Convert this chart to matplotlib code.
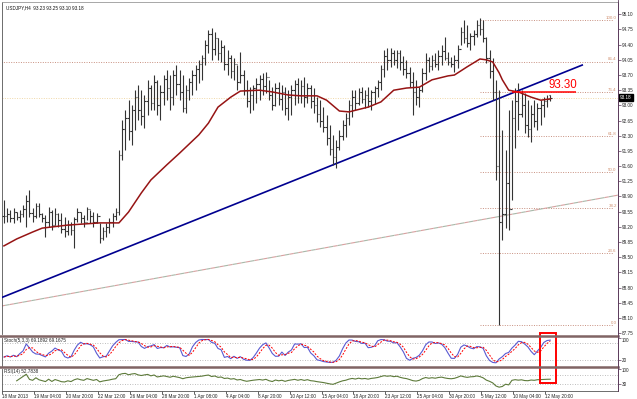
import numpy as np
import pandas as pd
import matplotlib
matplotlib.use("Agg")
import matplotlib.pyplot as plt
from matplotlib.lines import Line2D
from matplotlib.patches import Rectangle

# USDJPY H4 bars
highs = [90.82, 90.63, 90.59, 90.63, 90.54, 90.59, 90.70, 90.93, 91.05, 90.63,
         90.75, 90.75, 90.52, 90.47, 90.66, 90.59, 90.63, 90.52, 90.52, 90.43,
         90.36, 90.31, 90.43, 90.63, 90.54, 90.47, 90.66, 90.59, 90.54, 90.52,
         90.29, 90.20, 90.29, 90.40, 90.52, 90.63, 91.97, 92.66, 92.89, 93.12,
         93.01, 93.35, 93.47, 93.35, 93.24, 93.59, 93.47, 93.70, 93.59, 93.47,
         93.70, 93.82, 93.70, 93.82, 93.93, 93.82, 93.70, 93.47, 93.63, 93.82,
         93.93, 94.05, 94.16, 94.51, 94.74, 94.78, 94.69, 94.55, 94.51, 94.39,
         94.28, 94.16, 94.09, 93.93, 94.23, 93.82, 93.59, 93.42, 93.47, 93.63,
         93.70, 93.75, 93.77, 93.59, 93.42, 93.52, 93.54, 93.47, 93.42, 93.35,
         93.47, 93.59, 93.63, 93.59, 93.65, 93.52, 93.47, 93.40, 93.19, 93.12,
         92.96, 92.78, 92.55, 92.32, 92.20, 92.43, 92.66, 92.82, 93.12, 93.35,
         93.35, 93.40, 93.42, 93.35, 93.42, 93.35, 93.45, 93.59, 93.93, 94.28,
         94.32, 94.32, 94.28, 94.28, 94.28, 94.14, 94.05, 93.89, 93.77, 93.59,
         93.42, 93.86, 94.21, 94.11, 94.16, 94.21, 94.28, 94.39, 94.58, 94.23,
         94.11, 94.16, 94.39, 94.81, 94.97, 94.85, 94.67, 94.74, 94.97, 95.01,
         94.97, 94.58, 94.28, 94.09, 93.59, 93.35, 92.43, 91.97, 92.89, 93.12,
         93.40, 93.52, 93.35, 93.29, 93.12, 93.01, 93.12, 93.06, 93.12, 93.19,
         93.24, 93.25]
lows = [90.29, 90.31, 90.31, 90.29, 90.36, 90.31, 90.43, 90.20, 90.43, 90.31,
        90.40, 90.43, 90.31, 89.96, 90.20, 90.13, 90.24, 90.20, 90.06, 89.96,
        90.01, 90.01, 89.71, 90.31, 90.29, 90.20, 90.36, 90.29, 90.20, 90.29,
        89.83, 89.90, 89.96, 90.06, 90.20, 90.36, 90.47, 91.74, 91.97, 92.20,
        92.09, 92.43, 92.66, 92.55, 92.48, 92.78, 92.89, 92.89, 92.78, 92.66,
        93.01, 93.12, 92.89, 93.01, 93.24, 93.12, 92.85, 92.82, 93.12, 93.24,
        93.35, 93.52, 93.59, 93.93, 94.21, 94.05, 94.16, 94.05, 94.00, 93.82,
        93.70, 93.63, 93.59, 93.35, 93.52, 93.24, 92.96, 92.82, 92.89, 93.06,
        93.12, 93.24, 93.29, 93.12, 92.89, 92.99, 93.01, 92.89, 92.78, 92.66,
        92.78, 93.01, 93.06, 93.06, 92.96, 93.06, 92.94, 92.82, 92.62, 92.50,
        92.39, 92.09, 91.86, 91.63, 91.56, 91.97, 92.20, 92.27, 92.55, 92.73,
        92.89, 93.01, 93.06, 92.94, 92.96, 92.89, 93.03, 93.19, 93.35, 93.65,
        93.82, 93.89, 93.93, 93.86, 93.82, 93.70, 93.63, 93.42, 92.78, 93.01,
        92.96, 93.31, 93.59, 93.77, 93.82, 93.89, 93.82, 93.93, 94.05, 93.93,
        93.89, 93.77, 93.86, 94.39, 94.44, 94.35, 94.28, 94.39, 94.58, 94.62,
        94.46, 93.98, 93.63, 93.12, 91.28, 87.94, 89.90, 90.17, 90.13, 90.82,
        92.02, 92.43, 92.73, 92.36, 92.27, 92.16, 92.50, 92.43, 92.55, 92.73,
        92.96, 93.10]
closes = [90.45, 90.50, 90.40, 90.55, 90.42, 90.50, 90.62, 90.80, 90.52, 90.45,
          90.68, 90.50, 90.40, 90.30, 90.55, 90.25, 90.50, 90.35, 90.15, 90.10,
          90.25, 90.12, 90.38, 90.55, 90.40, 90.30, 90.60, 90.45, 90.30, 90.45,
          89.95, 90.10, 90.20, 90.30, 90.45, 90.55, 91.85, 92.45, 92.70, 92.40,
          92.90, 93.20, 92.90, 92.75, 93.10, 93.40, 93.05, 93.55, 93.00, 93.30,
          93.60, 93.40, 93.20, 93.70, 93.50, 93.30, 92.95, 93.35, 93.55, 93.70,
          93.85, 93.95, 94.10, 94.40, 94.65, 94.30, 94.55, 94.20, 94.35, 93.95,
          94.10, 93.80, 93.95, 93.55, 93.70, 93.35, 93.10, 93.25, 93.40, 93.50,
          93.60, 93.45, 93.65, 93.25, 93.00, 93.40, 93.15, 93.30, 92.95, 93.20,
          93.35, 93.50, 93.25, 93.45, 93.20, 93.40, 93.10, 93.00, 92.80, 92.65,
          92.50, 92.25, 92.00, 91.80, 92.05, 92.30, 92.55, 92.70, 93.00, 93.20,
          93.05, 93.30, 93.15, 93.25, 93.10, 93.30, 93.40, 93.55, 93.85, 94.15,
          94.05, 94.20, 94.05, 94.20, 94.00, 93.85, 93.75, 93.55, 93.30, 93.20,
          93.35, 93.75, 94.05, 93.90, 94.05, 93.95, 94.15, 94.25, 94.10, 94.00,
          93.95, 94.05, 94.30, 94.70, 94.55, 94.45, 94.60, 94.65, 94.85, 94.75,
          94.55, 94.10, 93.80, 93.30, 91.60, 90.30, 90.50, 91.20, 90.60, 92.70,
          93.10, 92.80, 93.00, 92.55, 92.45, 92.80, 92.65, 92.95, 93.00, 93.10,
          93.15, 93.18]

# moving average (bar number, price)
ma_bar = [0, 4, 9, 12, 20, 30, 36, 39, 43, 46, 51, 55, 61, 64, 67, 71, 74, 80,
          84, 89, 93, 98, 101, 105, 108, 114, 118, 122, 126, 130, 134, 139, 141,
          145, 149, 151, 153, 155, 156, 158, 161, 165, 168, 171]
ma_val = [89.76, 89.92, 90.08, 90.17, 90.24, 90.29, 90.29, 90.54, 90.98, 91.28,
          91.63, 91.90, 92.32, 92.59, 92.96, 93.19, 93.33, 93.35, 93.31, 93.24,
          93.22, 93.22, 93.12, 92.87, 92.85, 92.96, 93.08, 93.35, 93.40, 93.42,
          93.59, 93.68, 93.70, 93.89, 94.07, 94.05, 94.00, 93.75, 93.59, 93.35,
          93.31, 93.19, 93.12, 93.15]

# drawn objects
trend_bar = [-1, 181]
trend_val = [88.56, 93.93]
channel_bar = [-1, 192.2]
channel_val = [88.37, 90.93]
fib_val = [94.97, 94.01, 93.31, 92.29, 91.46, 90.63, 89.60, 87.94]
fib_lab = ["100.0", "86.4", "76.4", "61.8", "50.0", "38.2", "23.6", "0.0"]
fib_start = [149, -1, 149, 149, 149, 149, 149, 149]
level_val = 93.30
level_bar = [159, 179]
bid = 93.18

price_ticks = [95.10, 94.75, 94.40, 94.05, 93.70, 93.35, 93.00, 92.65, 92.30,
               91.95, 91.60, 91.25, 90.90, 90.55, 90.20, 89.85, 89.50, 89.15,
               88.80, 88.45, 88.10, 87.75]
time_labels = ["18 Mar 2013", "19 Mar 04:00", "20 Mar 20:00", "22 Mar 12:00",
               "26 Mar 04:00", "28 Mar 20:00", "1 Apr 08:00", "4 Apr 04:00",
               "8 Apr 20:00", "10 Apr 12:00", "15 Apr 04:00", "18 Apr 20:00",
               "23 Apr 12:00", "25 Apr 04:00", "30 Apr 20:00", "5 May 12:00",
               "10 May 04:00", "12 May 20:00"]

df = pd.DataFrame({"high": highs, "low": lows, "close": closes})
n = len(df)
bars = np.arange(n)
opens = df["close"].shift(1).fillna(df["close"])
opens.iloc[-1] = 93.23

# Stochastic 5,3,3
ll = df["low"].rolling(5, min_periods=1).min()
hh = df["high"].rolling(5, min_periods=1).max()
num = (df["close"] - ll).rolling(3, min_periods=1).sum()
den = (hh - ll).rolling(3, min_periods=1).sum()
stoch_k = 100 * num / den
stoch_d = stoch_k.rolling(3, min_periods=1).mean()

# RSI 14
delta = df["close"].diff()
gain = delta.clip(lower=0).ewm(alpha=1 / 14, min_periods=4).mean()
loss = (-delta.clip(upper=0)).ewm(alpha=1 / 14, min_periods=4).mean()
rsi = 100 - 100 / (1 + gain / loss)

W, H = 637, 399
FONT = "Liberation Sans"
plt.rcParams["font.family"] = FONT


def rect(x0, y0, x1, y1):
    return [x0 / W, 1 - y1 / H, (x1 - x0) / W, (y1 - y0) / H]


fig = plt.figure(figsize=(W / 100, H / 100), dpi=100)
ax = fig.add_axes(rect(2, 2, 618, 334))
ax_st = fig.add_axes(rect(2, 337.5, 618, 365.5))
ax_rsi = fig.add_axes(rect(2, 368.5, 618, 391))

xmin, xmax = -0.6, 192.2
axis_col = "#5a3a5a"
for a in (ax, ax_st, ax_rsi):
    a.set_xlim(xmin, xmax)
    a.set_facecolor("white")
    for s in a.spines.values():
        s.set_linewidth(0.6)
    a.spines["left"].set_color("#555555")
    a.spines["right"].set_color(axis_col)
    a.spines["top"].set_visible(False)
    a.spines["bottom"].set_visible(False)
    a.yaxis.tick_right()
    a.tick_params(axis="y", length=2, width=0.5, pad=1, labelsize=3.3,
                  colors="#222222")
    a.tick_params(axis="y", color=axis_col)
ax.spines["top"].set_visible(True)
ax.spines["top"].set_color("#999999")

# main panel
ax.set_ylim(87.728, 95.384)
ax.axhline(bid, color="#f0d8a8", lw=0.7, ls=(0, (1, 1.5)), zorder=1)
for v, lab, st in zip(fib_val, fib_lab, fib_start):
    ax.hlines(v, st, 190.5, color="#c89080", lw=0.7, ls=(0, (1, 1.5)), zorder=1)
    ax.text(191.8, v + 0.05, lab, ha="right", va="center", fontsize=3.2,
            color="#d09070")
ax.plot(channel_bar, channel_val, color="#d8a0a0", lw=0.8, ls=(0, (4, 4)), zorder=2)
ax.plot(channel_bar, channel_val, color="#a8b8a8", lw=0.8, ls=(4, (4, 4)), zorder=2)
ax.plot(trend_bar, trend_val, color="#000090", lw=1.2, zorder=3)

ax.vlines(bars, df["low"], df["high"], color="#333333", lw=0.8, zorder=4)
ax.hlines(opens, bars - 0.45, bars, color="#333333", lw=0.8, zorder=4)
ax.hlines(df["close"], bars, bars + 0.45, color="#333333", lw=0.8, zorder=4)

ax.plot(ma_bar, ma_val, color="#961414", lw=1.1, zorder=5)
ax.hlines(level_val, level_bar[0], level_bar[1], color="#ff0000", lw=1.1, zorder=6)
ax.text(170.4, level_val + 0.04, "93.30", color="#ff0000", fontsize=8.3,
        ha="left", va="bottom", zorder=7)

ax.set_yticks(price_ticks)
ax.set_yticklabels(["%.2f" % t for t in price_ticks])
ax.set_xticks([])
ax.text(0.006, 0.983, "USDJPY,H4  93.23 93.25 93.10 93.18", transform=ax.transAxes,
        fontsize=3.3, va="center", ha="left", color="#111111")
ax.text(1.003, (bid - 87.728) / (95.384 - 87.728), "%.2f" % bid,
        transform=ax.transAxes, fontsize=3.3, color="white", ha="left",
        va="center", bbox=dict(boxstyle="square,pad=0.25", fc="black", ec="black"),
        zorder=8, clip_on=False)

# stochastic
ax_st.set_ylim(0, 100)
for lv in (80, 20):
    ax_st.axhline(lv, color="#a8a8a8", lw=0.6, ls=(0, (1, 2)))
ax_st.plot(bars, stoch_k, color="#5a5ad2", lw=0.8)
ax_st.plot(bars, stoch_d, color="#ff0000", lw=0.7, ls=(0, (2, 1.5)))
ax_st.set_yticks([100, 20])
ax_st.set_yticklabels(["100", "20"])
ax_st.get_yticklabels()[0].set_va("top")
ax_st.set_xticks([])
ax_st.text(0.003, 0.9, "Stoch(5,3,3) 69.1892 69.1675", transform=ax_st.transAxes,
           fontsize=3.3, va="center", ha="left", color="#222222")

# RSI
ax_rsi.set_ylim(0, 100)
for lv in (70, 30):
    ax_rsi.axhline(lv, color="#a8a8a8", lw=0.6, ls=(0, (1, 2)))
ax_rsi.plot(bars, rsi, color="#5d7a3a", lw=0.8)
ax_rsi.set_yticks([100, 30])
ax_rsi.set_yticklabels(["100", "30"])
ax_rsi.get_yticklabels()[0].set_va("top")
ax_rsi.text(0.003, 0.86, "RSI(14) 52.7838", transform=ax_rsi.transAxes,
            fontsize=3.3, va="center", ha="left", color="#222222")
ax_rsi.spines["bottom"].set_visible(True)
ax_rsi.spines["bottom"].set_color("#555555")
tick_pos = [10 * k - 0.6 for k in range(len(time_labels))]
ax_rsi.set_xticks(tick_pos)
ax_rsi.set_xticklabels(time_labels, ha="left")
ax_rsi.tick_params(axis="x", length=2, width=0.5, pad=0.5, labelsize=3.3,
                   colors="#222222")

# panel separators and right scale line
for yy in (335.8, 366.9):
    fig.add_artist(Line2D([0, 618 / W], [1 - yy / H, 1 - yy / H], color="#806464",
                          lw=1.8))
fig.add_artist(Line2D([618 / W, 618 / W], [1 - 391 / H, 1], color=axis_col, lw=0.6))

# highlight box around the latest stochastic reading
fig.add_artist(Rectangle((540 / W, 1 - 383 / H), 16 / W, 50 / H, fill=False,
                         ec="#ff0000", lw=1.4))

fig.savefig("out.png", dpi=100)
